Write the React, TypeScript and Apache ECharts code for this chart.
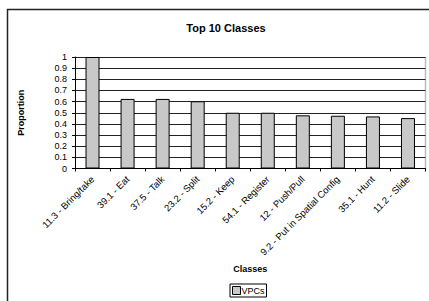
import React, { useEffect, useRef } from "react";
import * as echarts from "echarts";

const categories = [
  "11.3 - Bring/take",
  "39.1 - Eat",
  "37.5 - Talk",
  "23.2 - Split",
  "15.2 - Keep",
  "54.1 - Register",
  "12 - Push/Pull",
  "9.2 - Put in Spatial Config",
  "35.1 - Hunt",
  "11.2 - Slide",
];
const vpcValues = [1.0, 0.624, 0.624, 0.603, 0.5, 0.5, 0.477, 0.473, 0.467, 0.452];
const seriesName = "VPCs";
const FONT = "'Liberation Sans', Arial, sans-serif";

export default function App() {
  const ref = useRef<HTMLDivElement>(null);
  useEffect(() => {
    if (!ref.current) return;
    const chart = echarts.init(ref.current, undefined, { renderer: "svg" });
    chart.setOption({
      animation: false,
      textStyle: { fontFamily: FONT },
      title: {
        text: "Top 10 Classes",
        left: 221,
        textAlign: "center",
        top: 17,
        textStyle: { fontSize: 11, fontWeight: "bold", color: "#000", fontFamily: FONT },
      },
      graphic: [
        {
          type: "rect",
          shape: { x: 7.5, y: 9.5, width: 440, height: 320 },
          style: { fill: "none", stroke: "#222", lineWidth: 1.5 },
          silent: true,
          z: -1,
        },
        {
          type: "line",
          shape: { x1: 425.5, y1: 57, x2: 425.5, y2: 168.5 },
          style: { stroke: "#bbb", lineWidth: 1.5 },
          silent: true,
        },
      ],
      legend: {
        data: [seriesName],
        left: 230,
        top: 284,
        padding: [2, 2, 2, 2],
        borderColor: "#000",
        borderWidth: 1,
        itemWidth: 8,
        itemHeight: 8,
        itemGap: 2,
        icon: "rect",
        itemStyle: { color: "#c8c8c8", borderColor: "#000", borderWidth: 1 },
        textStyle: { fontSize: 9, color: "#000", fontFamily: FONT, padding: [0, 0, 0, -4] },
      },
      grid: { left: 75, right: 3.5, top: 57, bottom: 132.5, containLabel: false },
      xAxis: {
        type: "category",
        data: categories,
        name: "Classes",
        nameLocation: "middle",
        nameGap: 96,
        nameTextStyle: { fontSize: 9, fontWeight: "bold", color: "#000", fontFamily: FONT },
        axisLine: { lineStyle: { color: "#000", width: 1 } },
        axisTick: { show: true, length: 3, lineStyle: { color: "#000" } },
        axisLabel: { rotate: 45, interval: 0, fontSize: 9.5, color: "#000", margin: 9, fontFamily: FONT },
      },
      yAxis: {
        type: "value",
        min: 0,
        max: 1,
        interval: 0.1,
        name: "Proportion",
        nameLocation: "middle",
        nameGap: 50,
        nameTextStyle: { fontSize: 9, fontWeight: "bold", color: "#000", fontFamily: FONT },
        axisLine: { show: true, lineStyle: { color: "#000", width: 1 } },
        axisTick: { show: true, length: 3, lineStyle: { color: "#000" } },
        axisLabel: { fontSize: 9, color: "#000", margin: 8, fontFamily: FONT },
        splitLine: { show: true, lineStyle: { color: "#222", width: 1 } },
      },
      series: [
        {
          name: seriesName,
          type: "bar",
          data: vpcValues,
          barWidth: 14,
          itemStyle: { color: "#c8c8c8", borderColor: "#000", borderWidth: 1 },
        },
      ],
    });
    return () => chart.dispose();
  }, []);
  return (
    <div
      ref={ref}
      style={{ position: "absolute", left: 0, top: 0, width: 429, height: 301 }}
    />
  );
}
